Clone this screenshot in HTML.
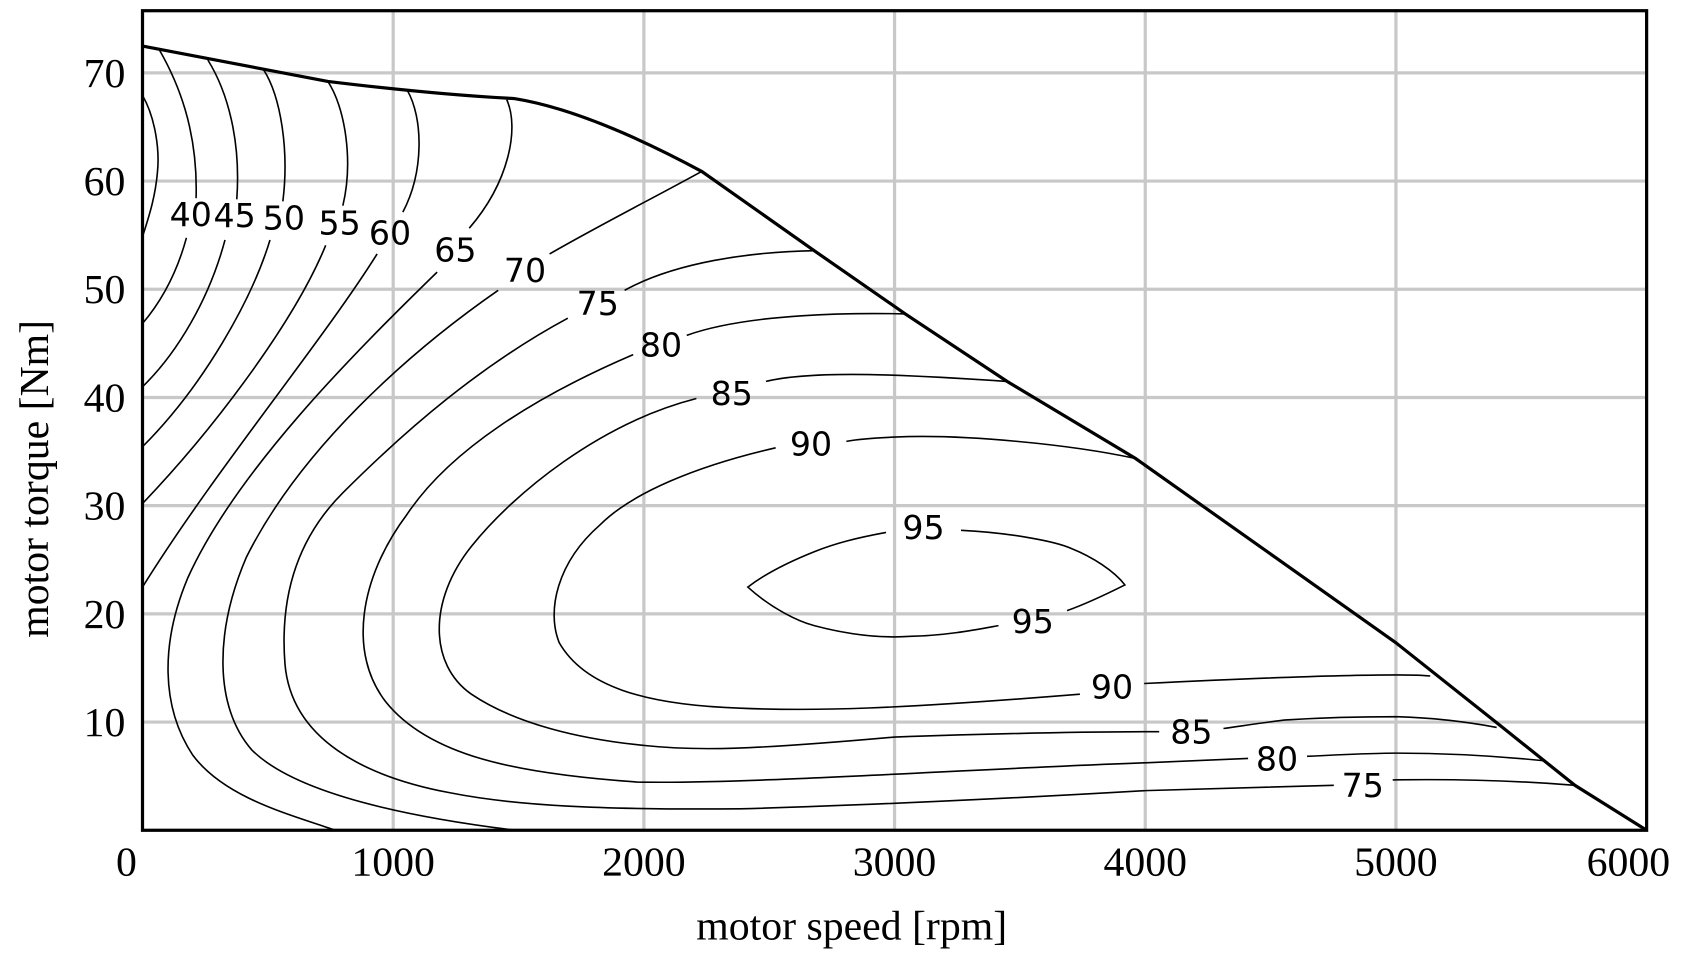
<!DOCTYPE html>
<html><head><meta charset="utf-8"><style>html,body{margin:0;padding:0;background:#fff}svg{display:block}</style></head>
<body>
<svg width="1682" height="969" viewBox="0 0 1570 904.5" xmlns="http://www.w3.org/2000/svg">
<rect width="1570" height="905" fill="#fff"/>
<g stroke="#c8c8c8" stroke-width="3">
<line x1="367" y1="10" x2="367" y2="775"/><line x1="601" y1="10" x2="601" y2="775"/><line x1="835" y1="10" x2="835" y2="775"/><line x1="1069" y1="10" x2="1069" y2="775"/><line x1="1303" y1="10" x2="1303" y2="775"/>
<line x1="133" y1="674" x2="1537" y2="674"/><line x1="133" y1="573" x2="1537" y2="573"/><line x1="133" y1="472" x2="1537" y2="472"/><line x1="133" y1="371" x2="1537" y2="371"/><line x1="133" y1="270" x2="1537" y2="270"/><line x1="133" y1="169" x2="1537" y2="169"/><line x1="133" y1="68" x2="1537" y2="68"/>
</g>
<g fill="none" stroke="#000" stroke-width="1.5">
<path d="M133,89 C145,110 149,140 147,160 C145,185 138,205 133,221"/>
<path d="M149,47 C165,75 185,120 183,185"/><path d="M174,222 C165,255 150,282 133,302"/>
<path d="M194,56 C212,85 225,130 221,186"/><path d="M210,224 C195,280 165,330 133,361"/>
<path d="M246,65 C262,90 270,140 264,188"/><path d="M252,224 C235,280 190,360 133,417"/>
<path d="M306,76 C322,100 330,150 320,192"/><path d="M304,229 C275,300 200,400 133,470"/>
<path d="M380,84 C395,110 396,160 376,198"/><path d="M352,237 C300,320 200,440 133,548"/>
<path d="M473,93 C485,120 475,170 438,213"/><path d="M408,254 C330,330 220,440 175,540 C150,600 150,660 180,705 C210,745 270,760 313,775"/>
<path d="M655,160 C600,190 560,210 513,237"/><path d="M465,271 C380,330 280,420 230,520 C200,590 200,660 235,700 C280,745 400,765 481,775"/>
<path d="M760,234 C700,235 630,245 583,271"/><path d="M530,297 C450,340 380,400 320,460 C270,510 262,570 266,620 C272,690 340,725 420,740 C480,752 560,756 691,755 C800,752 950,745 1069,738 C1150,736 1200,734 1245,733"/>
<path d="M1300,728 C1360,727 1420,729 1470,733"/>
<path d="M845,293 C800,292 700,292 641,313"/><path d="M591,331 C500,370 420,420 380,480 C335,540 325,610 360,655 C400,705 480,722 595,730 C700,732 900,718 1069,712 C1110,710 1140,709 1165,708"/>
<path d="M1220,706 C1260,704 1290,703 1303,703 C1360,703 1410,707 1440,710"/>
<path d="M940,356 C850,350 760,345 715,356"/><path d="M650,372 C560,395 480,460 440,510 C400,560 400,620 440,648 C480,675 540,690 603,696 C650,701 700,700 835,688 C950,684 1020,683 1082,683"/>
<path d="M1142,680 C1170,676 1190,673 1200,672 C1250,669 1290,669 1303,669 C1340,670 1370,674 1397,679"/>
<path d="M1060,428 C1000,415 900,405 835,408 C810,409 795,411 790,412"/><path d="M724,418 C650,435 590,460 560,490 C520,525 510,570 522,600 C545,640 600,658 691,661 C760,664 835,662 1008,648"/>
<path d="M1068,638 C1150,634 1250,630 1303,630 C1315,630 1325,630 1335,631"/>
<path d="M827,497 C800,502 780,507 760,515 C735,525 715,535 698,548 C720,568 745,580 760,584 C790,592 820,596 850,594 C885,593 910,588 932,584"/>
<path d="M897,495 C940,497 985,505 1000,512 C1020,520 1040,533 1050,546 C1030,556 1010,565 996,570"/>
</g>
<g fill="none" stroke="#000" stroke-width="3">
<path d="M133,43 L306,76 C380,85 440,90 480,92 C530,100 590,125 655,160 L760,234 L845,293 L940,356 L1060,428 L1190,520 L1303,600 L1400,677 L1470,733 L1537,775"/>
<rect x="133" y="10" width="1404" height="765"/>
</g>
<g font-family="DejaVu Sans, sans-serif" font-size="31" text-anchor="middle" fill="#000">
<text x="178" y="211">40</text><text x="219" y="212">45</text><text x="265" y="214">50</text><text x="317" y="219">55</text><text x="364" y="228">60</text><text x="425" y="244">65</text><text x="490" y="263">70</text><text x="558" y="294">75</text><text x="617" y="333">80</text><text x="683" y="378">85</text><text x="757" y="425">90</text><text x="862" y="503">95</text><text x="964" y="591">95</text><text x="1038" y="652">90</text><text x="1112" y="694">85</text><text x="1192" y="719">80</text><text x="1272" y="744">75</text>
</g>
<g font-family="Liberation Serif, serif" font-size="39" fill="#000">
<g text-anchor="end"><text x="117" y="687">10</text><text x="117" y="586">20</text><text x="117" y="485">30</text><text x="117" y="384">40</text><text x="117" y="283">50</text><text x="117" y="182">60</text><text x="117" y="81">70</text></g>
<g text-anchor="middle"><text x="118" y="817">0</text><text x="367" y="817">1000</text><text x="601" y="817">2000</text><text x="835" y="817">3000</text><text x="1069" y="817">4000</text><text x="1303" y="817">5000</text><text x="1520" y="817">6000</text>
<text x="795" y="877">motor speed [rpm]</text>
<text transform="translate(45,447) rotate(-90)">motor torque [Nm]</text></g>
</g>
</svg>
</body></html>
